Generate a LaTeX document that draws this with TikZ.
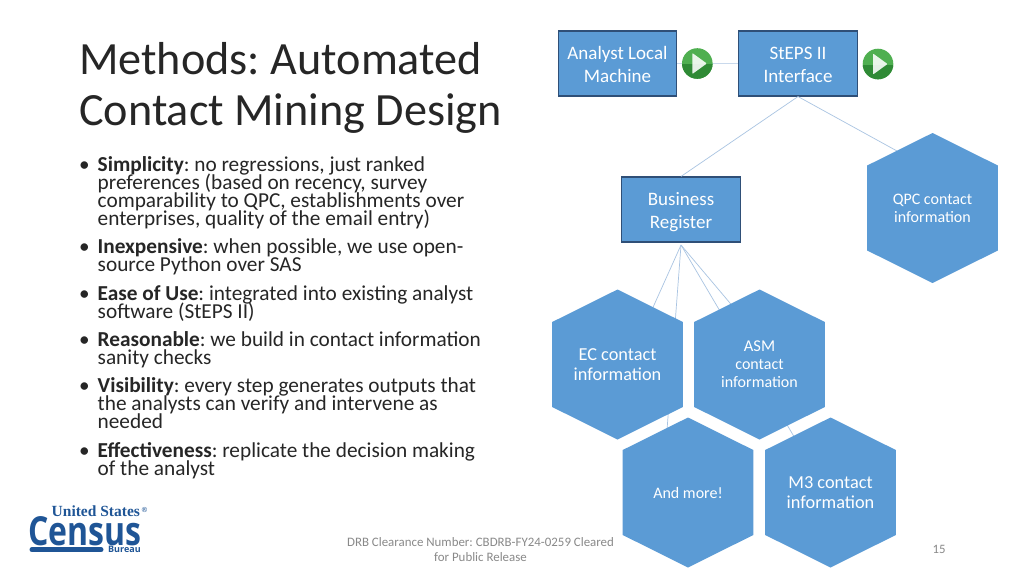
\documentclass[tikz,border=0pt]{standalone}
\usepackage{fontspec}
\setmainfont{Carlito}
\newfontfamily\logofont{Open Sans}
\newfontfamily\logoserif{Liberation Serif}
\AtBeginDocument{\frenchspacing}
\definecolor{fillblue}{HTML}{5B9BD5}
\definecolor{edgeblue}{HTML}{2F4F77}
\definecolor{linkblue}{HTML}{A9C4E2}
\definecolor{linkpale}{HTML}{C9D9EC}
\definecolor{bodyink}{HTML}{262626}
\definecolor{footink}{HTML}{898989}
\definecolor{logoblue}{HTML}{1F5596}
\definecolor{playtop}{HTML}{4FAF50}
\definecolor{playlow}{HTML}{2F8A35}
\newcommand{\fs}[1]{\fontsize{#1}{#1}\selectfont}
\newcommand{\tightlines}{\fontsize{21.3}{18}\selectfont\lineskiplimit-30pt\relax}
\newcommand{\hexa}[6]{% name, cx, top, fontsize, text, text offset
  \fill[fillblue] (#2,#3) -- ++(65.3,32.5) -- ++(0,85) -- ++(-65.3,32.5) -- ++(-65.3,-32.5) -- ++(0,-85) -- cycle;
  \node[hexlabel,font=\fs{#4}] (#1) at (#2,#3+#6) {#5};
}
\newcommand{\playbtn}[3]{% name, x, y
  \coordinate (#1) at (#2,#3);
  \fill[playtop] (#1) circle (15.3);
  \begin{scope}
    \clip (#2-16,#3+1) rectangle (#2+16,#3+16);
    \fill[playlow] (#1) circle (15.3);
  \end{scope}
  \fill[white,opacity=.88,rounded corners=.8] (#2-5,#3-10.5) -- (#2+9.5,#3) -- (#2-5,#3+10.5) -- cycle;
}
\tikzset{
  boxnode/.style={draw=edgeblue,line width=1.1pt,fill=fillblue,text=white,minimum width=118.5pt,minimum height=65pt,inner sep=0pt,align=center,font=\fs{19},text depth=0pt,text height=38pt},
  hexlabel/.style={text=white,align=center,inner sep=0pt},
  link/.style={draw=linkblue,line width=.7pt},
  bullettext/.style={anchor=base west,align=left,inner sep=0pt,text=bodyink,font=\tightlines},
  bulletdot/.style={anchor=base west,inner sep=0pt,text=bodyink,font=\fs{21.2}},
  titletext/.style={anchor=base west,inner sep=0pt,text=bodyink,font=\fs{46.2}},
}
\begin{document}
\begin{tikzpicture}[x=1pt,y=-1pt]
\useasboundingbox[fill=white] (0,0) rectangle (1024,576);

% connector end points hidden behind the hexagons
\coordinate (brfoot) at (681,245);
\coordinate (qpcin) at (897,151);
\coordinate (ecin) at (650,314);
\coordinate (asmin) at (735,309);
\coordinate (morein) at (667,430);
\coordinate (m3in) at (796,440);

% boxes
\node[boxnode] (analyst) at (617.5,63.5) {Analyst Local\\[4pt]Machine};
\node[boxnode] (steps) at (798,63.5) {StEPS II\\[4pt]Interface};
\node[boxnode] (register) at (681,209.5) {Business\\[4pt]Register};

% connectors
\draw[draw=linkpale,line width=1pt] (analyst.east) -- (steps.west);
\draw[link] (steps.south) -- (register.north);
\draw[link] (steps.south) -- (qpcin);
\draw[link] (brfoot) -- (ecin);
\draw[link] (brfoot) -- (morein);
\draw[link] (brfoot) -- (asmin);
\draw[link] (brfoot) -- (m3in);

% hexagons
\hexa{qpc}{932.5}{133}{16}{QPC contact\\[2pt]information}{75}
\hexa{ec}{617.5}{289.5}{18.3}{EC contact\\[1.7pt]information}{75.5}
\hexa{asm}{759.5}{289.5}{16}{\fs{16.5}ASM\\[1.5pt]contact\\[2pt]information}{74.5}
\hexa{more}{688}{417.5}{16}{And more!}{75}
\hexa{m3}{830.5}{417.5}{18.3}{M3 contact\\[1.7pt]information}{75.5}

% play buttons
\playbtn{playa}{697.3}{63.5}
\playbtn{playb}{878}{64}

% title
\node[titletext] (title1) at (79,74) {Methods: Automated};
\node[titletext] (title2) at (79,125) {Contact Mining Design};

% bullets (the node's base is the baseline of its last line)
\node[bulletdot] (d1) at (79,171) {•};
\node[bullettext] (b1) at (97.5,225) {\textbf{Simplicity}: no regressions, just ranked\\preferences (based on recency, survey\\comparability to QPC, establishments over\\enterprises, quality of the email entry)};
\node[bulletdot] (d2) at (79,253.5) {•};
\node[bullettext] (b2) at (97.5,271) {\textbf{Inexpensive}: when possible, we use open-\\source Python over SAS};
\node[bulletdot] (d3) at (79,300) {•};
\node[bullettext] (b3) at (97.5,318) {\textbf{Ease of Use}: integrated into existing analyst\\software (StEPS II)};
\node[bulletdot] (d4) at (79,346.5) {•};
\node[bullettext] (b4) at (97.5,364) {\textbf{Reasonable}: we build in contact information\\sanity checks};
\node[bulletdot] (d5) at (79,392.5) {•};
\node[bullettext] (b5) at (97.5,428.5) {\textbf{Visibility}: every step generates outputs that\\the analysts can verify and intervene as\\needed};
\node[bulletdot] (d6) at (79,457.5) {•};
\node[bullettext] (b6) at (97.5,475) {\textbf{Effectiveness}: replicate the decision making\\of the analyst};

% footer
\node[anchor=center,align=center,inner sep=0pt,text=footink,font=\fontsize{12.9}{15.5}\selectfont] (foot) at (480.5,549.5) {DRB Clearance Number: CBDRB-FY24-0259 Cleared\\for Public Release};
\node[anchor=center,inner sep=0pt,text=footink,font=\fs{12.8}] (pagenum) at (939,549.5) {15};

% logo
\node[anchor=base west,inner sep=0pt,text=logoblue,font=\logoserif\bfseries\fs{15.5}] (lg1) at (51.5,516.5) {United States};
\node[anchor=base,inner sep=0pt,text=logoblue,font=\logofont\fs{7}] (lgr) at (144.5,512) {®};
\node[anchor=base west,inner sep=0pt,text=logoblue,font=\logofont\bfseries\fs{40},xscale=.8] (lg2) at (28,545.5) {Census};
\node[anchor=base west,inner sep=0pt,text=logoblue,font=\logofont\bfseries\fs{9},xscale=1] (lg3) at (108,552.5) {Bureau};
\draw[logoblue,line width=5pt,line cap=round] (32,549.8) -- (101,549.8);
\end{tikzpicture}
\end{document}
